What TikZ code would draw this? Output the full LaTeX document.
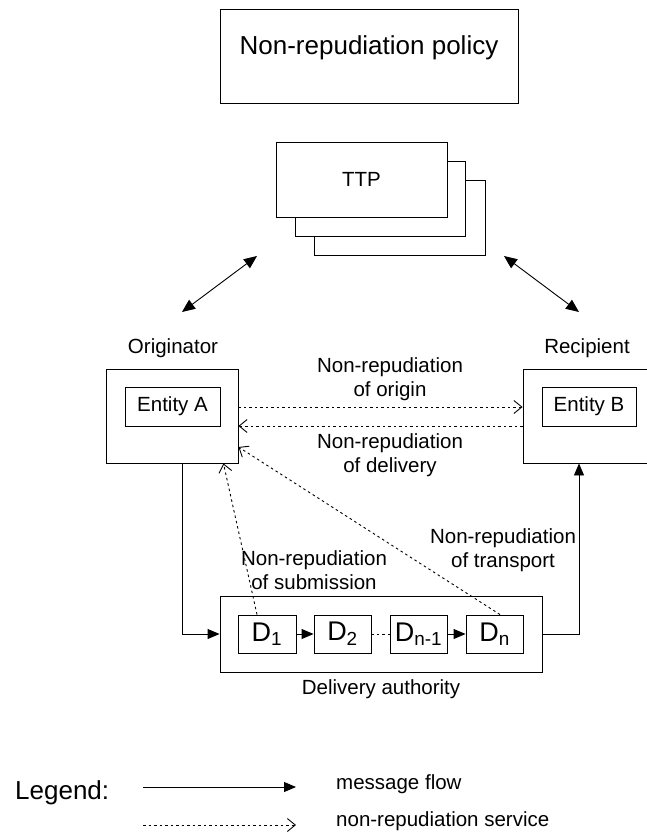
\documentclass[tikz,border=0pt]{standalone}
\usepackage{fontspec}
\setmainfont{Liberation Sans}
\usetikzlibrary{arrows.meta,calc}
\begin{document}
\begin{tikzpicture}[x=1pt,y=-1pt,
  box/.style={draw, line width=0.9pt, fill=white, inner sep=0pt},
  lbl/.style={font=\fontsize{20.5}{24}\selectfont, inner sep=0pt, align=center},
  big/.style={font=\fontsize{26}{30}\selectfont, inner sep=0pt},
  dlbl/.style={font=\fontsize{27}{30}\selectfont, inner sep=0pt},
  flow/.style={line width=0.9pt, -{Triangle[length=12pt,width=10pt]}},
  nrs/.style={line width=0.9pt, dash pattern=on 2.5pt off 3pt, -{Straight Barb[length=8pt,width=13pt]}},
  dots/.style={line width=0.9pt, dash pattern=on 2.5pt off 3pt},
  both/.style={line width=0.9pt, {Triangle[length=13pt,width=11pt]}-{Triangle[length=13pt,width=11pt]}},
]
\path[use as bounding box] (0,0) rectangle (647,832);
\clip (0,0) rectangle (647,832);
\fill[white] (0,0) rectangle (647,832);

% policy
\node[box, minimum width=298pt, minimum height=94pt] (policy) at (369,56) {};
\node[big, anchor=base] (policytext) at (369,55) {Non-repudiation policy};

% stacked TTP boxes
\node[box, minimum width=171pt, minimum height=75pt] (ttp3) at (399.5,217.5) {};
\node[box, minimum width=170pt, minimum height=75pt] (ttp2) at (380,198.5) {};
\node[box, minimum width=171pt, minimum height=75pt, lbl] (ttp) at (361.5,179.5) {TTP};

% originator and recipient
\node[lbl, anchor=base] (origlbl) at (173,353) {Originator};
\node[box, minimum width=132pt, minimum height=94pt] (orig) at (172,416) {};
\node[box, minimum width=95pt, minimum height=39pt, lbl] (enta) at (172.5,406.5) {Entity A};

\node[lbl, anchor=base] (reciplbl) at (587,353) {Recipient};
\node[box, minimum width=132pt, minimum height=94pt] (recip) at (589,416) {};
\node[box, minimum width=94pt, minimum height=39pt, lbl] (entb) at (589,406.5) {Entity B};

% links to the TTP
\coordinate (tl) at (257,256);
\coordinate (ol) at (182,312);
\coordinate (tr) at (504,256);
\coordinate (rr) at (579,312);
\draw[both] (tl) -- (ol);
\draw[both] (tr) -- (rr);

% delivery authority
\node[box, minimum width=322pt, minimum height=76pt] (auth) at (381,634) {};
\node[lbl, anchor=base] (authlbl) at (381,694) {Delivery authority};
\node[box, minimum width=58pt, minimum height=38pt, dlbl] (d1) at (267,634) {D\textsubscript{1}};
\node[box, minimum width=57pt, minimum height=38pt, dlbl] (d2) at (342.5,634) {D\textsubscript{2}};
\node[box, minimum width=57pt, minimum height=38pt, dlbl] (dm) at (418.5,634) {D\textsubscript{n-1}};
\node[box, minimum width=57pt, minimum height=38pt, dlbl] (dn) at (494.5,634) {D\textsubscript{n}};

\draw[flow] (d1) -- (d2);
\draw[dots] (d2) -- (dm);
\draw[flow] (dm) -- (dn);

% message flow through the delivery authority
\draw[flow] ([xshift=10pt]orig.south) |- (auth.west);
\draw[flow] (auth.east) -| ([xshift=-10pt]recip.south);

% non-repudiation services
\draw[nrs] ([yshift=9pt]orig.east) -- ([yshift=9pt]recip.west);
\draw[nrs] ([yshift=-10pt]recip.west) -- ([yshift=-10pt]orig.east);
\draw[nrs] ([xshift=-10pt]d1.north) -- ([xshift=-15pt]orig.south east);
\draw[nrs] ([xshift=5.5pt]dn.north) -- ([yshift=-31pt]orig.east);

\node[lbl] (lorigin) at (390,379.5) {Non-repudiation\\of origin};
\node[lbl] (ldeliv) at (390,455) {Non-repudiation\\of delivery};
\node[lbl] (lsubm) at (314,570) {Non-repudiation\\of submission};
\node[lbl] (ltrans) at (503,550.5) {Non-repudiation\\of transport};

% legend
\node[big, anchor=base west] (legend) at (15,799) {Legend:};
\coordinate (la) at (143,787);
\coordinate (lb) at (296,787);
\coordinate (lc) at (143,825);
\coordinate (ld) at (296,825);
\draw[flow] (la) -- (lb);
\draw[nrs] (lc) -- (ld);
\node[lbl, anchor=base west] (lflow) at (336,789) {message flow};
\node[lbl, anchor=base west] (lserv) at (336,826) {non-repudiation service};
\end{tikzpicture}
\end{document}
